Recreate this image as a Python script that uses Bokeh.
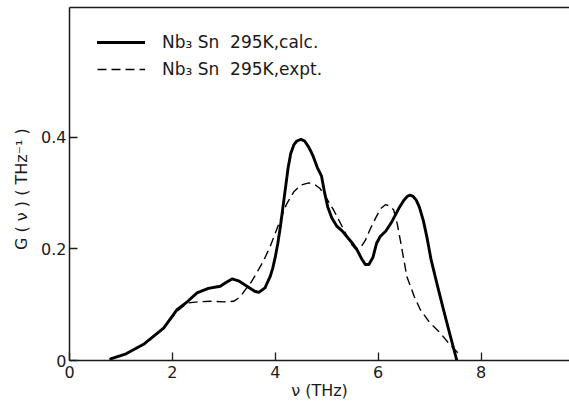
from bokeh.plotting import figure
from bokeh.models import LinearAxis, FixedTicker, Legend, LegendItem, Range1d
from bokeh.embed import file_html
from bokeh.resources import INLINE

# Phonon density of states of Nb3Sn at 295 K
nu_calc = [0.8, 1.1, 1.44, 1.83, 2.09, 2.3, 2.48, 2.7, 2.93, 3.05, 3.16, 3.3, 3.45,
           3.6, 3.68, 3.8, 3.9, 3.95, 4.0, 4.05, 4.1, 4.15, 4.2, 4.25, 4.3, 4.36,
           4.42, 4.5, 4.57, 4.63, 4.69, 4.74, 4.82, 4.9, 4.96, 5.02, 5.1, 5.2, 5.3,
           5.39, 5.5, 5.59, 5.68, 5.75, 5.82, 5.9, 5.97, 6.04, 6.15, 6.27, 6.4, 6.5,
           6.57, 6.62, 6.68, 6.74, 6.8, 6.88, 6.95, 7.03, 7.15, 7.27, 7.4, 7.53]
g_calc = [0.003, 0.012, 0.029, 0.058, 0.091, 0.106, 0.121, 0.129, 0.133, 0.14, 0.146,
          0.142, 0.133, 0.124, 0.122, 0.13, 0.15, 0.165, 0.185, 0.21, 0.24, 0.275,
          0.31, 0.345, 0.37, 0.386, 0.393, 0.396, 0.393, 0.385, 0.375, 0.365, 0.345,
          0.33, 0.3, 0.275, 0.255, 0.24, 0.232, 0.222, 0.21, 0.198, 0.182, 0.172,
          0.172, 0.185, 0.21, 0.222, 0.232, 0.249, 0.272, 0.287, 0.294, 0.296,
          0.294, 0.287, 0.275, 0.25, 0.22, 0.18, 0.135, 0.091, 0.045, 0.0]

nu_expt = [0.8, 1.1, 1.44, 1.83, 2.09, 2.29, 2.5, 2.74, 3.0, 3.19, 3.32, 3.42, 3.53,
           3.64, 3.77, 3.9, 4.0, 4.1, 4.22, 4.36, 4.5, 4.65, 4.77, 4.87, 5.0, 5.13,
           5.3, 5.46, 5.56, 5.65, 5.75, 5.84, 5.95, 6.05, 6.14, 6.22, 6.3, 6.37,
           6.43, 6.5, 6.56, 6.7, 6.82, 7.0, 7.2, 7.4, 7.59]
g_expt = [0.003, 0.012, 0.029, 0.058, 0.088, 0.103, 0.105, 0.106, 0.105, 0.106, 0.114,
          0.127, 0.14, 0.157, 0.178, 0.204, 0.228, 0.252, 0.28, 0.302, 0.314, 0.318,
          0.315, 0.308, 0.29, 0.27, 0.24, 0.21, 0.2, 0.201, 0.215, 0.234, 0.255,
          0.272, 0.279, 0.277, 0.27, 0.245, 0.216, 0.18, 0.15, 0.115, 0.091, 0.068,
          0.05, 0.028, 0.01]

x_ticks = [0, 2, 4, 6, 8]
y_ticks = [0, 0.2, 0.4]
y_tick_labels = {0: "0", 0.2: "0.2", 0.4: "0.4"}

FONT = "DejaVu Sans"
INK = "#1a1a1a"

p = figure(width=569, height=402, output_backend="svg", toolbar_location=None,
           x_range=Range1d(0, 9.72), y_range=Range1d(0, 0.632),
           min_border_left=69, min_border_right=0, min_border_top=7,
           min_border_bottom=41)
p.outline_line_color = None
p.grid.visible = False
p.background_fill_color = "white"
p.border_fill_color = "white"

for ax in (p.xaxis[0], p.yaxis[0]):
    ax.axis_line_color = INK
    ax.axis_line_width = 1.5
    ax.major_tick_line_color = INK
    ax.major_tick_line_width = 1.3
    ax.major_tick_in = 8
    ax.major_tick_out = 0
    ax.minor_tick_line_color = None
    ax.major_label_text_font = FONT
    ax.major_label_text_font_size = "16px"
    ax.major_label_text_color = INK
    ax.axis_label_text_font = FONT
    ax.axis_label_text_font_size = "16px"
    ax.axis_label_text_font_style = "normal"
    ax.axis_label_text_color = INK

p.xaxis.ticker = FixedTicker(ticks=x_ticks)
p.xaxis.major_label_standoff = 5
p.xaxis.axis_label = "ν (THz)"
p.xaxis.axis_label_standoff = 0

p.yaxis.ticker = FixedTicker(ticks=y_ticks)
p.yaxis.major_label_overrides = y_tick_labels
p.yaxis.major_label_standoff = 3
p.yaxis.axis_label = "G ( ν )   ( THz⁻¹ )"
p.yaxis.axis_label_standoff = 7

# top border of the frame
top = LinearAxis(ticker=FixedTicker(ticks=[]), axis_line_color=INK,
                 axis_line_width=1.5, major_tick_line_color=None,
                 minor_tick_line_color=None, major_label_text_font_size="0px")
p.add_layout(top, "above")

r_calc = p.line(nu_calc, g_calc, line_color="black", line_width=2.9,
                line_join="round", line_cap="round")
r_expt = p.line(nu_expt, g_expt, line_color="black", line_width=1.4,
                line_dash="9 5")

legend = Legend(items=[LegendItem(label="Nb₃ Sn  295K,calc.", renderers=[r_calc]),
                       LegendItem(label="Nb₃ Sn  295K,expt.", renderers=[r_expt])],
                location=(28, 281), padding=0, margin=0, spacing=7,
                glyph_width=48, glyph_height=20, label_standoff=17,
                label_text_font=FONT, label_text_font_size="17px",
                label_text_color=INK, border_line_color=None,
                background_fill_alpha=0)
p.add_layout(legend)

open("out.html", "w").write(file_html(p, INLINE))
